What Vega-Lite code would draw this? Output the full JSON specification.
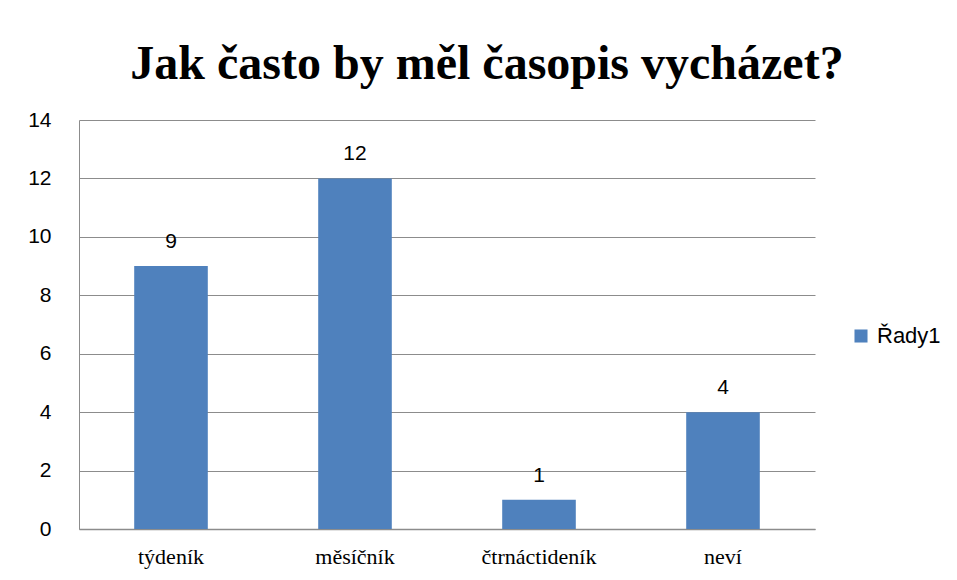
{
  "$schema": "https://vega.github.io/schema/vega-lite/v6.json",
  "width": 736,
  "height": 409,
  "autosize": "none",
  "padding": {"left": 79, "top": 120, "right": 142, "bottom": 51},
  "background": "white",
  "title": {
    "text": "Jak často by měl časopis vycházet?",
    "font": "Liberation Serif",
    "fontSize": 48,
    "fontWeight": "bold",
    "color": "black",
    "anchor": "middle",
    "dx": 40,
    "offset": 20
  },
  "data": {
    "values": [
      {"kategorie": "týdeník", "hodnota": 9, "rada": "Řady1"},
      {"kategorie": "měsíčník", "hodnota": 12, "rada": "Řady1"},
      {"kategorie": "čtrnáctideník", "hodnota": 1, "rada": "Řady1"},
      {"kategorie": "neví", "hodnota": 4, "rada": "Řady1"}
    ]
  },
  "encoding": {
    "x": {
      "field": "kategorie",
      "type": "nominal",
      "sort": null,
      "title": null,
      "scale": {"paddingInner": 0.6, "paddingOuter": 0.3},
      "axis": {
        "labelAngle": 0,
        "labelFont": "Liberation Serif",
        "labelFontSize": 22,
        "labelColor": "black",
        "labelPadding": 17,
        "ticks": false,
        "domainColor": "#8c8c8c",
        "domainWidth": 1.5
      }
    },
    "y": {
      "field": "hodnota",
      "type": "quantitative",
      "title": null,
      "scale": {"domain": [0, 14]},
      "axis": {
        "values": [0, 2, 4, 6, 8, 10, 12, 14],
        "labelFont": "Liberation Sans",
        "labelFontSize": 21,
        "labelColor": "black",
        "labelPadding": 28,
        "ticks": false,
        "grid": true,
        "gridColor": "#8c8c8c",
        "gridWidth": 1,
        "domainColor": "#8c8c8c",
        "domainWidth": 1
      }
    }
  },
  "layer": [
    {
      "mark": {"type": "bar", "color": "#4F81BD"},
      "encoding": {
        "color": {
          "field": "rada",
          "type": "nominal",
          "scale": {"range": ["#4F81BD"]},
          "legend": {
            "title": null,
            "orient": "none",
            "legendX": 771,
            "legendY": 205,
            "symbolType": "square",
            "symbolSize": 170,
            "symbolStrokeWidth": 0,
            "labelFont": "Liberation Sans",
            "labelFontSize": 22,
            "labelColor": "black",
            "labelOffset": 5
          }
        }
      }
    },
    {
      "mark": {
        "type": "text",
        "baseline": "bottom",
        "dy": -14,
        "font": "Liberation Sans",
        "fontSize": 21,
        "color": "black"
      },
      "encoding": {"text": {"field": "hodnota", "type": "quantitative"}}
    }
  ],
  "config": {"view": {"stroke": null}}
}
